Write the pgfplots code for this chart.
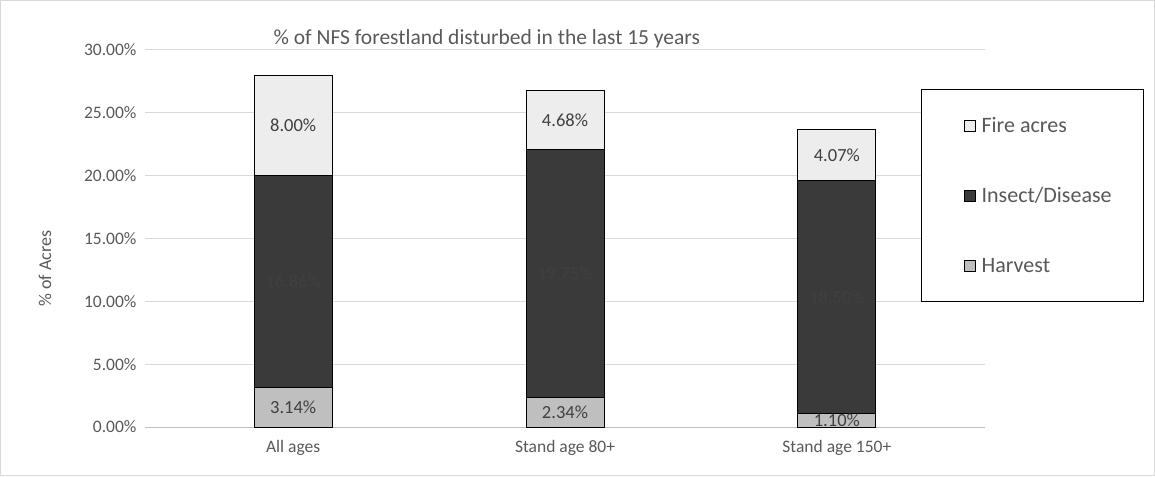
\documentclass[border=0pt]{standalone}
\usepackage{pgfplots}
\pgfplotsset{compat=1.18}
\usepackage{fontspec}
\setmainfont{Carlito}

\definecolor{txt}{HTML}{595959}
\definecolor{lab}{HTML}{404040}
\definecolor{gridc}{HTML}{D9D9D9}
\definecolor{axc}{HTML}{BFBFBF}
\definecolor{firec}{HTML}{EDEDED}
\definecolor{insc}{HTML}{3A3A3A}
\definecolor{harvc}{HTML}{BFBFBF}

\pgfplotsset{
  frame/.style={at={(145pt,49pt)}, anchor=south west,
    scale only axis, width=840pt, height=377pt,
    xmin=-0.545, xmax=2.545, ymin=0, ymax=30},
}

\begin{document}
\begin{tikzpicture}
\draw[gridc, line width=1pt] (0.5pt,0.5pt) rectangle (1154.5pt,475.5pt);
\begin{axis}[
  frame,
  ybar stacked, bar width=78pt,
  xtick={0,1,2},
  xticklabels={All ages, Stand age 80+, Stand age 150+},
  ytick={0,5,...,30},
  yticklabel={\pgfmathprintnumber{\tick}\%},
  ticklabel style={font=\fontsize{17.5}{20}\selectfont, text=txt},
  yticklabel style={xshift=-5pt, /pgf/number format/fixed, /pgf/number format/fixed zerofill,
    /pgf/number format/precision=2, /pgf/number format/assume math mode=true},
  xticklabel style={yshift=-10pt},
  axis x line*=bottom, axis y line*=left,
  y axis line style={draw=none},
  x axis line style={draw=axc, line width=1pt, -},
  major tick length=0pt,
  ymajorgrids, grid style={gridc, line width=1pt},
  ylabel={\% of Acres},
  ylabel style={at={(axis description cs:-0.119,0.42)}, anchor=center, font=\fontsize{18}{21}\selectfont, text=txt},
  title={\% of NFS forestland disturbed in the last 15 years},
  title style={at={(axis description cs:0.407,1.0134)}, anchor=center, font=\fontsize{21.5}{26}\selectfont, text=txt},
  reverse legend, legend cell align=left,
  legend image code/.code={\path (0pt,0pt); \draw[#1, draw=black, line width=1pt] (42pt,-5.5pt) rectangle (53pt,5.5pt);},
  legend style={at={(0.9238,0.8966)}, anchor=north west, draw=black, line width=1.2pt,
    font=\fontsize{22}{26}\selectfont, text=txt, inner xsep=0pt, inner ysep=26pt, row sep=49.5pt},
]
\addplot[fill=harvc, draw=black, line width=1pt] coordinates {(0,3.14) (1,2.34) (2,1.10)};
\addplot[fill=insc, draw=black, line width=1pt] coordinates {(0,16.86) (1,19.75) (2,18.50)};
\addplot[fill=firec, draw=black, line width=1pt] coordinates {(0,8.00) (1,4.68) (2,4.07)};
\addlegendentry{\makebox[164pt][l]{\hspace{4pt}Harvest}}
\addlegendentry{\makebox[164pt][l]{\hspace{4pt}Insect/Disease}}
\addlegendentry{\makebox[164pt][l]{\hspace{4pt}Fire acres}}
\end{axis}
% value labels, set at the middle of each segment
\begin{axis}[frame, hide axis,
  nodes near coords, point meta=explicit symbolic,
  every node near coord/.style={anchor=center, font=\fontsize{18.5}{22}\selectfont, text=lab}]
\addplot[draw=none, mark=none] coordinates {(0,1.57)[3.14\%] (1,1.17)[2.34\%] (2,0.55)[1.10\%]};
\addplot[draw=none, mark=none] coordinates {(0,11.57)[16.86\%] (1,12.215)[19.75\%] (2,10.35)[18.50\%]};
\addplot[draw=none, mark=none] coordinates {(0,24.00)[8.00\%] (1,24.43)[4.68\%] (2,21.635)[4.07\%]};
\end{axis}
\end{tikzpicture}
\end{document}
